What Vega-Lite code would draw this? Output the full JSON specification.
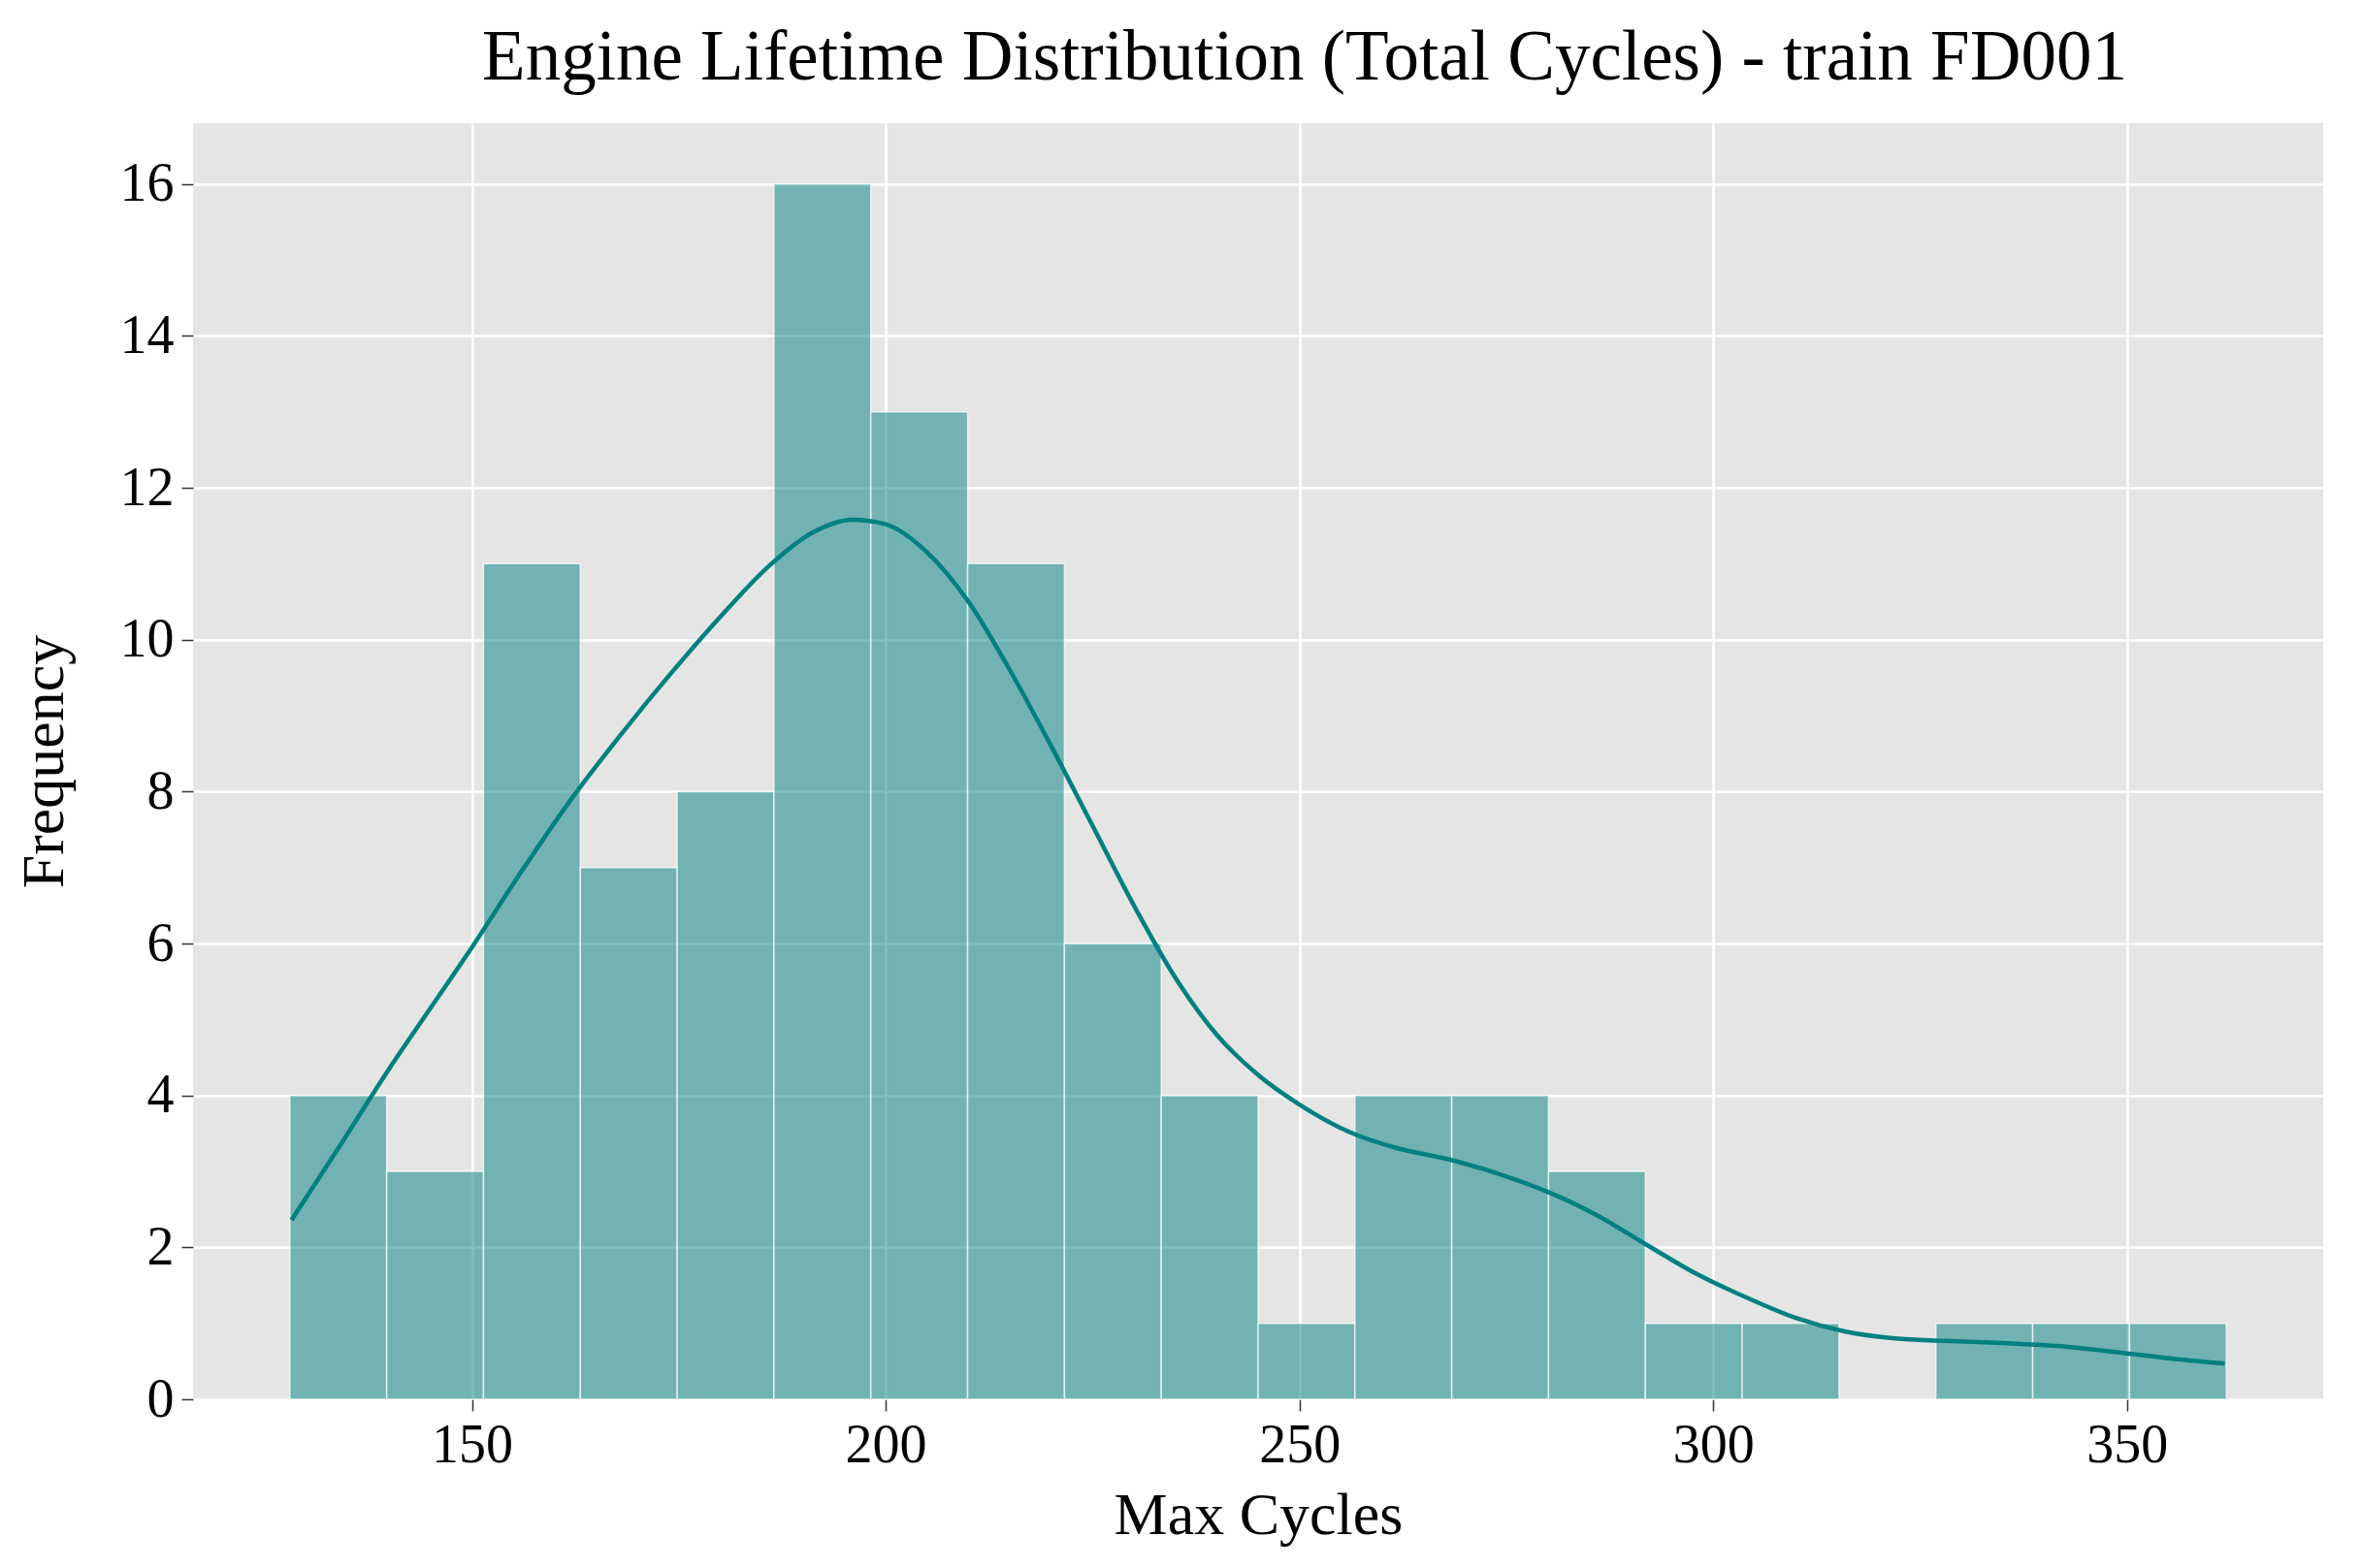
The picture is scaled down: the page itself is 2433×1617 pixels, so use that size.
{
  "$schema": "https://vega.github.io/schema/vega-lite/v6.json",
  "width": 2196,
  "height": 1316,
  "autosize": {"type": "none"},
  "padding": {"left": 199, "top": 127, "right": 38, "bottom": 174},
  "background": "white",
  "title": {
    "text": "Engine Lifetime Distribution (Total Cycles) - train FD001",
    "font": "Liberation Serif",
    "fontSize": 73,
    "fontWeight": "normal",
    "color": "black",
    "anchor": "middle",
    "dx": 48,
    "offset": 30
  },
  "datasets": {
    "bins": [
      {"start": 128.0, "end": 139.7, "count": 4},
      {"start": 139.7, "end": 151.4, "count": 3},
      {"start": 151.4, "end": 163.1, "count": 11},
      {"start": 163.1, "end": 174.8, "count": 7},
      {"start": 174.8, "end": 186.5, "count": 8},
      {"start": 186.5, "end": 198.2, "count": 16},
      {"start": 198.2, "end": 209.9, "count": 13},
      {"start": 209.9, "end": 221.6, "count": 11},
      {"start": 221.6, "end": 233.3, "count": 6},
      {"start": 233.3, "end": 245.0, "count": 4},
      {"start": 245.0, "end": 256.7, "count": 1},
      {"start": 256.7, "end": 268.4, "count": 4},
      {"start": 268.4, "end": 280.1, "count": 4},
      {"start": 280.1, "end": 291.8, "count": 3},
      {"start": 291.8, "end": 303.5, "count": 1},
      {"start": 303.5, "end": 315.2, "count": 1},
      {"start": 326.9, "end": 338.6, "count": 1},
      {"start": 338.6, "end": 350.3, "count": 1},
      {"start": 350.3, "end": 362.0, "count": 1}
    ],
    "kde": [
      {"x": 128.2, "y": 2.36},
      {"x": 134.0, "y": 3.33},
      {"x": 140.0, "y": 4.35},
      {"x": 145.0, "y": 5.15},
      {"x": 150.0, "y": 5.95},
      {"x": 156.0, "y": 6.95},
      {"x": 162.0, "y": 7.9},
      {"x": 168.0, "y": 8.75},
      {"x": 174.0, "y": 9.55},
      {"x": 180.0, "y": 10.3},
      {"x": 186.0, "y": 10.98},
      {"x": 191.0, "y": 11.4},
      {"x": 196.0, "y": 11.58},
      {"x": 200.0, "y": 11.52},
      {"x": 205.0, "y": 11.15},
      {"x": 210.0, "y": 10.5},
      {"x": 215.0, "y": 9.6},
      {"x": 220.0, "y": 8.6},
      {"x": 225.0, "y": 7.55},
      {"x": 230.0, "y": 6.5},
      {"x": 235.0, "y": 5.55},
      {"x": 240.0, "y": 4.8},
      {"x": 245.0, "y": 4.27},
      {"x": 250.0, "y": 3.88},
      {"x": 256.0, "y": 3.52},
      {"x": 262.0, "y": 3.3},
      {"x": 268.0, "y": 3.16},
      {"x": 274.0, "y": 2.97},
      {"x": 280.0, "y": 2.73},
      {"x": 286.0, "y": 2.42},
      {"x": 292.0, "y": 2.03},
      {"x": 298.0, "y": 1.65},
      {"x": 304.0, "y": 1.34},
      {"x": 310.0, "y": 1.07},
      {"x": 316.0, "y": 0.89},
      {"x": 322.0, "y": 0.8},
      {"x": 328.0, "y": 0.77},
      {"x": 335.0, "y": 0.74},
      {"x": 342.0, "y": 0.7},
      {"x": 348.0, "y": 0.63},
      {"x": 355.0, "y": 0.54},
      {"x": 361.8, "y": 0.47}
    ]
  },
  "config": {
    "view": {"fill": "#e5e5e5", "stroke": null},
    "axis": {
      "labelFont": "Liberation Serif",
      "titleFont": "Liberation Serif",
      "labelFontSize": 56,
      "titleFontSize": 62,
      "titleFontWeight": "normal",
      "labelColor": "black",
      "titleColor": "black",
      "domain": false,
      "grid": true,
      "gridColor": "white",
      "gridWidth": 2.5,
      "tickColor": "#333333",
      "tickWidth": 1.5,
      "tickSize": 12,
      "labelPadding": 8
    }
  },
  "layer": [
    {
      "data": {"name": "bins"},
      "mark": {"type": "rect", "fill": "#008080", "fillOpacity": 0.5, "stroke": "white", "strokeWidth": 1.5, "strokeOpacity": 0.7},
      "encoding": {
        "x": {
          "field": "start",
          "type": "quantitative",
          "scale": {"domain": [116.3, 373.7], "nice": false, "zero": false},
          "axis": {"title": "Max Cycles", "values": [150, 200, 250, 300, 350], "format": "d", "titlePadding": 14}
        },
        "x2": {"field": "end"},
        "y": {
          "field": "count",
          "type": "quantitative",
          "scale": {"domain": [0, 16.8], "nice": false},
          "axis": {"title": "Frequency", "values": [0, 2, 4, 6, 8, 10, 12, 14, 16], "format": "d", "titlePadding": 46}
        },
        "y2": {"datum": 0}
      }
    },
    {
      "data": {"name": "kde"},
      "mark": {"type": "line", "color": "#008080", "strokeWidth": 4.5, "interpolate": "monotone"},
      "encoding": {
        "x": {"field": "x", "type": "quantitative"},
        "y": {"field": "y", "type": "quantitative"}
      }
    }
  ]
}
